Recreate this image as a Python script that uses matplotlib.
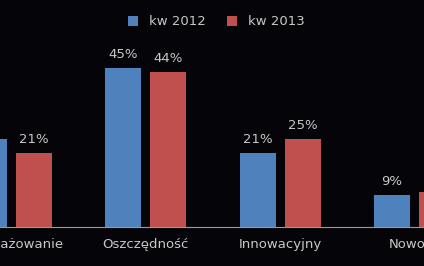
import numpy as np
import matplotlib
matplotlib.use('Agg')
import matplotlib.pyplot as plt

categories = ['Zaangażowanie', 'Oszczędność', 'Innowacyjny', 'Nowość']
series_names = ['kw 2012', 'kw 2013']
vals_2012 = [25, 45, 21, 9]
vals_2013 = [21, 44, 25, 10]
colors = ['#4F81BD', '#C0504D']

bg = '#050509'
txt = '#c8c8c8'

fig = plt.figure(figsize=(4.24, 2.66), dpi=100, facecolor=bg)
ax = fig.add_axes([0, 39 / 266, 1, 227 / 266], facecolor=bg)

x = np.arange(len(categories))
w = 36 / 134.5
off = 22.5 / 134.5
b1 = ax.bar(x - off, vals_2012, w, color=colors[0], label=series_names[0])
b2 = ax.bar(x + off, vals_2013, w, color=colors[1], label=series_names[1])

for bars, vals in [(b1, vals_2012), (b2, vals_2013)]:
    for b, v in zip(bars, vals):
        ax.annotate(f'{v}%', (b.get_x() + b.get_width() / 2, v),
                    xytext=(0, 5), textcoords='offset points',
                    ha='center', va='bottom', color=txt, fontsize=9.5)

ax.set_xlim(-11 / 134.5, 413 / 134.5)
ax.set_ylim(0, 227 / 3.53)
for s in ['top', 'right', 'left']:
    ax.spines[s].set_visible(False)
ax.spines['bottom'].set_color('#999999')
ax.set_yticks([])
ax.set_xticks(x)
ax.set_xticklabels(categories, color=txt, fontsize=9.5)
ax.tick_params(axis='x', length=0, pad=8)

leg = fig.legend(loc='center', bbox_to_anchor=(216 / 424, 1 - 22 / 266), ncol=2,
                 frameon=False, fontsize=9.5, handlelength=0.8, handleheight=0.8,
                 columnspacing=1.6, handletextpad=0.8)
for t in leg.get_texts():
    t.set_color(txt)

fig.savefig('out.png', dpi=100, facecolor=bg)
